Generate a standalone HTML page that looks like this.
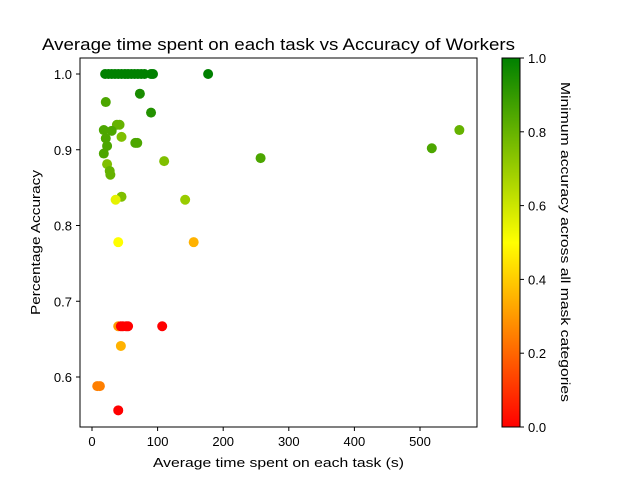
<!DOCTYPE html>
<html><head><meta charset="utf-8"><style>
body{margin:0;background:#fff;font-family:"Liberation Sans",sans-serif}
</style></head><body>
<svg id="c" width="640" height="480" xmlns="http://www.w3.org/2000/svg">
<defs><linearGradient id="cg" x1="0" y1="1" x2="0" y2="0">
<stop offset="0" stop-color="#ff0000"/><stop offset="0.5" stop-color="#ffff00"/><stop offset="1" stop-color="#008000"/></linearGradient></defs>
<text x="42" y="50" font-size="17" textLength="473" lengthAdjust="spacingAndGlyphs">Average time spent on each task vs Accuracy of Workers</text>
<g id="pts"></g>
<rect x="80" y="58" width="397" height="369" fill="none" stroke="#000" stroke-width="1"/>
<g id="ax" font-size="13"></g>
<text x="153" y="467" font-size="13" textLength="251" lengthAdjust="spacingAndGlyphs">Average time spent on each task (s)</text>
<text transform="translate(40,315) rotate(-90)" font-size="13" textLength="145" lengthAdjust="spacingAndGlyphs">Percentage Accuracy</text>
<rect x="502" y="58" width="18" height="369" fill="url(#cg)" stroke="#000" stroke-width="1"/>
<text transform="translate(561,82) rotate(90)" font-size="13" textLength="320" lengthAdjust="spacingAndGlyphs">Minimum accuracy across all mask categories</text>
</svg>
<script>
const xs=[20,25,30,35,40,45,50,55,60,65,70,75,80,90,93,177,73,21,90,38,42,45,18,30,21,23,66,69,18,23,110,27,28,45,36,142,40,155,257,518,560,40,44,47,52,55,107,44,8,12,40];
const ys=[1,1,1,1,1,1,1,1,1,1,1,1,1,1,1,1,0.974,0.963,0.949,0.933,0.933,0.917,0.926,0.925,0.915,0.905,0.909,0.909,0.895,0.881,0.885,0.872,0.867,0.838,0.834,0.834,0.778,0.778,0.889,0.902,0.926,0.667,0.667,0.667,0.667,0.667,0.667,0.641,0.588,0.588,0.556];
const cs=[1,1,1,1,1,1,1,1,1,1,1,1,1,1,1,1,0.95,0.85,0.93,0.8,0.8,0.75,0.85,0.85,0.85,0.85,0.85,0.85,0.85,0.75,0.75,0.8,0.8,0.75,0.55,0.7,0.5,0.35,0.85,0.85,0.8,0.3,0,0,0,0,0,0.35,0.25,0.25,0];
const xTicks=[0,100,200,300,400,500];
const yTicks=[0.6,0.7,0.8,0.9,1.0];
const cTicks=[0,0.2,0.4,0.6,0.8,1.0];
const X=v=>92+v*0.656, Y=v=>74+(1-v)*757.5, C=v=>427-v*369;
function col(t){let r,g,b;if(t<=0.5){r=255;g=255*t*2;b=0;}else{const u=(t-0.5)*2;r=255*(1-u);g=255-127*u;b=0;}return`rgb(${r|0},${g|0},${b|0})`;}
const NS="http://www.w3.org/2000/svg",P=document.getElementById('pts'),A=document.getElementById('ax');
function el(t,a,p){const e=document.createElementNS(NS,t);for(const k in a)e.setAttribute(k,a[k]);p.appendChild(e);return e;}
xs.forEach((x,i)=>{const e=el('circle',{cx:X(x),cy:Y(ys[i]),r:5,fill:col(cs[i])},P);

});
xTicks.forEach(t=>{el('line',{x1:X(t),x2:X(t),y1:427,y2:431,stroke:'#000'},A);const e=el('text',{x:X(t),y:446,'text-anchor':'middle'},A);e.textContent=t;

});
yTicks.forEach(t=>{el('line',{x1:76,x2:80,y1:Y(t),y2:Y(t),stroke:'#000'},A);const e=el('text',{x:72,y:Y(t)+5,'text-anchor':'end'},A);e.textContent=t.toFixed(1);

});
cTicks.forEach(t=>{el('line',{x1:520,x2:524,y1:C(t),y2:C(t),stroke:'#000'},A);const e=el('text',{x:528,y:C(t)+5},A);e.textContent=t.toFixed(1);

});
</script>
</body></html>
